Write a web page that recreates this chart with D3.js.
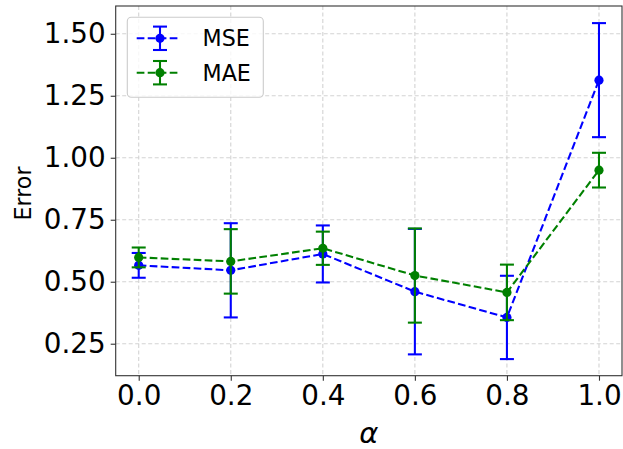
<!DOCTYPE html>
<html><head><meta charset="utf-8">
<script src="https://cdn.jsdelivr.net/npm/d3@7"></script>
<style>body{margin:0;background:#fff}svg{display:block}text{font-family:"DejaVu Sans",sans-serif}</style>
</head><body>
<svg id="c" width="623" height="449"></svg>
<script>
const alphas = [0.0, 0.2, 0.4, 0.6, 0.8, 1.0];
const mse = [0.566, 0.546, 0.612, 0.460, 0.356, 1.313];
const mseErr = [0.050, 0.190, 0.115, 0.253, 0.168, 0.230];
const mae = [0.598, 0.582, 0.635, 0.525, 0.457, 0.950];
const maeErr = [0.040, 0.130, 0.067, 0.190, 0.112, 0.070];
const xTicks = [0.0, 0.2, 0.4, 0.6, 0.8, 1.0];
const yTicks = [0.25, 0.50, 0.75, 1.00, 1.25, 1.50];
const seriesNames = ["MSE", "MAE"];
const seriesColors = ["#0000ff", "#008000"];

const svg = d3.select("#c");
const L = 115.7, R = 622, T = 6, B = 375.7;
const x = d3.scaleLinear().domain([-0.05, 1.05]).range([L, R]);
const y = d3.scaleLinear().domain([0.121, 1.612]).range([B, T]);

// grid
const grid = svg.append("g");
xTicks.forEach(v => grid.append("line").attr("x1", x(v)).attr("x2", x(v)).attr("y1", T).attr("y2", B)
  .attr("stroke", "#d3d3d3").attr("stroke-width", 1.1).attr("stroke-dasharray", "4,2.5"));
yTicks.forEach(v => grid.append("line").attr("y1", y(v)).attr("y2", y(v)).attr("x1", L).attr("x2", R)
  .attr("stroke", "#d3d3d3").attr("stroke-width", 1.1).attr("stroke-dasharray", "4,2.5"));

// axes
const xAxis = d3.axisBottom(x).tickValues(xTicks).tickFormat(d3.format(".1f")).tickSizeInner(5).tickSizeOuter(0).tickPadding(5);
const yAxis = d3.axisLeft(y).tickValues(yTicks).tickFormat(d3.format(".2f")).tickSizeInner(5).tickSizeOuter(0).tickPadding(5);
const gx = svg.append("g").attr("transform", `translate(0,${B})`).call(xAxis);
const gy = svg.append("g").attr("transform", `translate(${L},0)`).call(yAxis);
[gx, gy].forEach(g => {
  g.select(".domain").remove();
  g.selectAll("line").attr("stroke", "#333").attr("stroke-width", 1.1);
  g.selectAll("text").attr("font-size", "27.8px").attr("fill", "#000").attr("font-family", "DejaVu Sans");
});
gx.selectAll("text").attr("dy", "0.71em");

// series
const sets = [
  {name: seriesNames[0], color: seriesColors[0], v: mse, e: mseErr},
  {name: seriesNames[1], color: seriesColors[1], v: mae, e: maeErr}
];
const line = d3.line().x(d => x(d[0])).y(d => y(d[1]));
const cap = 7;
sets.forEach(s => {
  const g = svg.append("g");
  const pts = alphas.map((a, i) => [a, s.v[i], s.e[i]]);
  g.append("path").attr("d", line(pts)).attr("fill", "none").attr("stroke", s.color)
    .attr("stroke-width", 2.08).attr("stroke-dasharray", "7.7,3.3");
  pts.forEach(p => {
    const cx = x(p[0]), y0 = y(p[1] - p[2]), y1 = y(p[1] + p[2]);
    g.append("line").attr("x1", cx).attr("x2", cx).attr("y1", y0).attr("y2", y1).attr("stroke", s.color).attr("stroke-width", 2.08);
    [y0, y1].forEach(yy => g.append("line").attr("x1", cx - cap).attr("x2", cx + cap).attr("y1", yy).attr("y2", yy)
      .attr("stroke", s.color).attr("stroke-width", 2.08));
    g.append("circle").attr("cx", cx).attr("cy", y(p[1])).attr("r", 4.6).attr("fill", s.color);
  });
});

// frame
svg.append("rect").attr("x", L).attr("y", T).attr("width", R - L).attr("height", B - T)
  .attr("fill", "none").attr("stroke", "#333").attr("stroke-width", 1.1);

// legend
const lg = svg.append("g");
lg.append("rect").attr("x", 127.3).attr("y", 17.3).attr("width", 136).attr("height", 80).attr("rx", 4)
  .attr("fill", "rgba(255,255,255,0.8)").attr("stroke", "#cccccc").attr("stroke-width", 1.1);
sets.forEach((s, i) => {
  const yy = 38.3 + i * 34.4;
  lg.append("line").attr("x1", 136.7).attr("x2", 179).attr("y1", yy).attr("y2", yy).attr("stroke", s.color)
    .attr("stroke-width", 2.08).attr("stroke-dasharray", "7.7,3.3");
  lg.append("line").attr("x1", 160).attr("x2", 160).attr("y1", yy - 11.7).attr("y2", yy + 11.7).attr("stroke", s.color).attr("stroke-width", 2.08);
  [yy - 11.7, yy + 11.7].forEach(cy => lg.append("line").attr("x1", 153).attr("x2", 167).attr("y1", cy).attr("y2", cy)
    .attr("stroke", s.color).attr("stroke-width", 2.08));
  lg.append("circle").attr("cx", 160).attr("cy", yy).attr("r", 4.6).attr("fill", s.color);
  lg.append("text").attr("x", 202.5).attr("y", yy).attr("dy", "0.36em").attr("font-size", "22.2px").attr("fill", "#000").text(s.name);
});

// axis labels
svg.append("text").attr("transform", `translate(31,193.5) rotate(-90)`).attr("text-anchor", "middle")
  .attr("font-size", "22.2px").attr("fill", "#000").text("Error");
svg.append("text").attr("x", (L + R) / 2).attr("y", 443).attr("text-anchor", "middle")
  .attr("font-size", "29px").attr("font-style", "italic").attr("fill", "#000").text("α");
</script>
</body></html>
